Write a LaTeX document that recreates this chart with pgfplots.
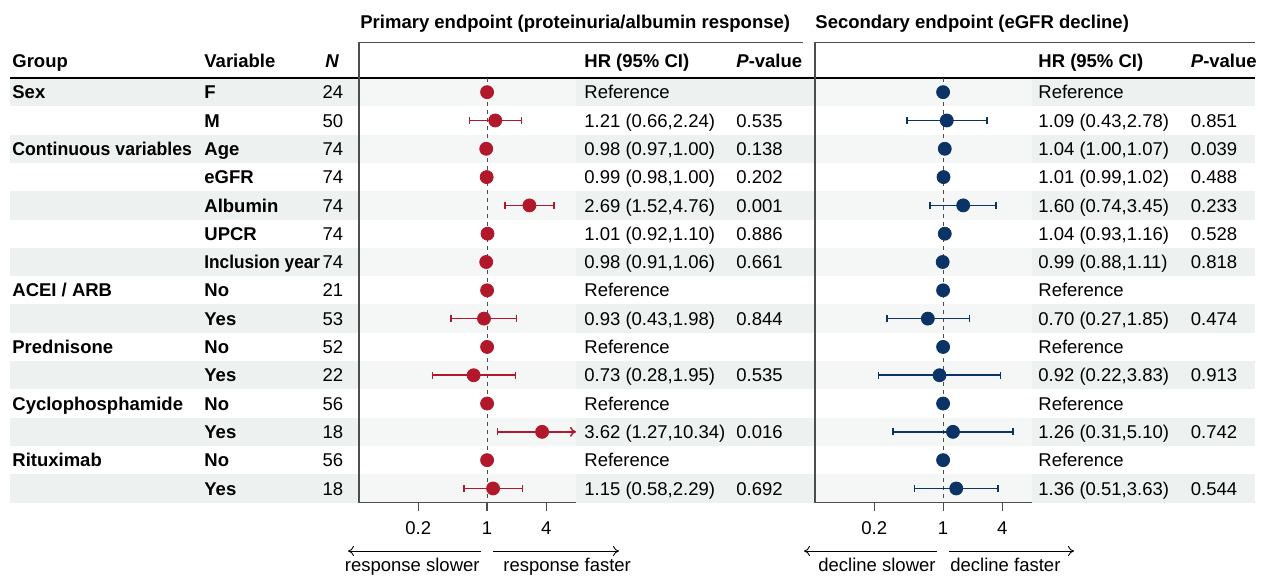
\documentclass[border=0pt]{standalone}
\usepackage{fontspec}
\setmainfont{Liberation Sans}
\usepackage{graphicx}
\usepackage{pgfplots}
\pgfplotsset{compat=1.18}
\usepackage{pgfplotstable}
\usetikzlibrary{arrows.meta}
\definecolor{shadeD}{HTML}{EDF1F0}
\definecolor{shadeL}{HTML}{F5F7F6}
\definecolor{cred}{HTML}{B2182B}
\definecolor{cnavy}{HTML}{0B3365}
\definecolor{axgray}{HTML}{4D4D4D}

% primary endpoint estimates: HR, row (negative), plus error, minus error
\pgfplotstableread{
x    y    ep    em
1.21 -2   1.03  0.55
0.98 -3   0.02  0.01
0.99 -4   0.01  0.01
2.69 -5   2.07  1.17
1.01 -6   0.09  0.09
0.98 -7   0.08  0.07
0.93 -9   1.05  0.50
0.73 -11  1.22  0.45
3.62 -13  0.00  2.35
1.15 -15  1.14  0.57
}\primest
% secondary endpoint estimates
\pgfplotstableread{
x    y    ep    em
1.09 -2   1.69  0.66
1.04 -3   0.03  0.04
1.01 -4   0.01  0.02
1.60 -5   1.85  0.86
1.04 -6   0.12  0.11
0.99 -7   0.12  0.11
0.70 -9   1.15  0.43
0.92 -11  2.91  0.70
1.26 -13  3.84  0.95
1.36 -15  2.27  0.85
}\secest
\pgfplotstableread{
x y
1 -1
1 -8
1 -10
1 -12
1 -14
}\refrows

\pgfplotsset{myforest/.style={
  scale only axis, width=108.5pt, height=230.3pt, anchor=south west,
  xmin=0.05, xmax=8, ymin=-15.5, ymax=0.7716,
  axis x line*=bottom, axis y line*=left, ytick=\empty,
  xtick={0.2,1,4}, xticklabels={0.2,1,4}, xminorticks=false,
  tick align=outside, major tick length=4pt,
  every tick/.style={axgray, line width=0.6pt},
  axis line style={axgray, line width=0.65pt},
  ticklabel style={font=\fontsize{9.25pt}{11pt}\selectfont, text=black},
  xticklabel style={yshift=-2pt},
  clip=false,
}}

\newcommand\trow[8]{%
  \pgfmathsetmacro\yb{78+(#1-0.5)*28.31+6.6}%
  \node[anchor=base west,inner sep=0] at (12,\yb) {\bfseries #2};
  \node[anchor=base west,inner sep=0] at (204,\yb) {\bfseries #3};
  \node[anchor=base east,inner sep=0] at (343.5,\yb) {#4};
  \node[anchor=base west,inner sep=0] at (584,\yb) {#5};
  \node[anchor=base west,inner sep=0] at (736,\yb) {#6};
  \node[anchor=base west,inner sep=0] at (1038,\yb) {#7};
  \node[anchor=base west,inner sep=0] at (1190.5,\yb) {#8};}

\begin{document}
\begin{tikzpicture}[x=0.5pt, y=-0.5pt, font=\fontsize{9.25pt}{11pt}\selectfont]
\path[use as bounding box] (0,0) rectangle (1263,575);
% row shading
\foreach \r in {1,3,...,15} {
  \pgfmathsetmacro\ya{78+(\r-1)*28.31}
  \pgfmathsetmacro\yc{78+\r*28.31}
  \fill[shadeD] (10,\ya) rectangle (1255,\yc);
  \fill[shadeL] (359,\ya) rectangle (576,\yc);
  \fill[shadeL] (815,\ya) rectangle (1032,\yc);
}
% titles
\node[anchor=base west,inner sep=0] at (360,28.6) {\bfseries Primary endpoint (proteinuria/albumin response)};
\node[anchor=base west,inner sep=0] at (815,28.6) {\bfseries Secondary endpoint (eGFR decline)};
% header
\node[anchor=base west,inner sep=0] at (12,67.6) {\bfseries Group};
\node[anchor=base west,inner sep=0] at (204,67.6) {\bfseries Variable};
\node[anchor=base west,inner sep=0] at (325,67.6) {\bfseries\itshape N};
\node[anchor=base west,inner sep=0] at (584,67.6) {\bfseries HR (95\% CI)};
\node[anchor=base west,inner sep=0] at (736,67.6) {\bfseries{\itshape P}-value};
\node[anchor=base west,inner sep=0] at (1038,67.6) {\bfseries HR (95\% CI)};
\node[anchor=base west,inner sep=0] at (1190.5,67.6) {\bfseries{\itshape P}-value};
% lines
\draw[axgray, line width=0.5pt] (359,42) -- (803,42);
\draw[axgray, line width=0.5pt] (815,42) -- (1255,42);
\draw[black, line width=1.2pt] (10,78) -- (1255,78);
% table rows
\trow{1}{Sex}{F}{24}{Reference}{}{Reference}{}
\trow{2}{}{M}{50}{1.21 (0.66,2.24)}{0.535}{1.09 (0.43,2.78)}{0.851}
\trow{3}{\scalebox{0.955}[1]{Continuous variables}}{Age}{74}{0.98 (0.97,1.00)}{0.138}{1.04 (1.00,1.07)}{0.039}
\trow{4}{}{eGFR}{74}{0.99 (0.98,1.00)}{0.202}{1.01 (0.99,1.02)}{0.488}
\trow{5}{}{Albumin}{74}{2.69 (1.52,4.76)}{0.001}{1.60 (0.74,3.45)}{0.233}
\trow{6}{}{UPCR}{74}{1.01 (0.92,1.10)}{0.886}{1.04 (0.93,1.16)}{0.528}
\trow{7}{}{\scalebox{0.93}[1]{Inclusion year}}{74}{0.98 (0.91,1.06)}{0.661}{0.99 (0.88,1.11)}{0.818}
\trow{8}{ACEI / ARB}{No}{21}{Reference}{}{Reference}{}
\trow{9}{}{Yes}{53}{0.93 (0.43,1.98)}{0.844}{0.70 (0.27,1.85)}{0.474}
\trow{10}{Prednisone}{No}{52}{Reference}{}{Reference}{}
\trow{11}{}{Yes}{22}{0.73 (0.28,1.95)}{0.535}{0.92 (0.22,3.83)}{0.913}
\trow{12}{Cyclophosphamide}{No}{56}{Reference}{}{Reference}{}
\trow{13}{}{Yes}{18}{3.62 (1.27,10.34)}{0.016}{1.26 (0.31,5.10)}{0.742}
\trow{14}{Rituximab}{No}{56}{Reference}{}{Reference}{}
\trow{15}{}{Yes}{18}{1.15 (0.58,2.29)}{0.692}{1.36 (0.51,3.63)}{0.544}
% direction arrows
\draw[-{To[length=3pt,width=5pt]}, line width=0.45pt] (481,551) -- (348,551);
\draw[-{To[length=3pt,width=5pt]}, line width=0.45pt] (493,551) -- (619,551);
\draw[-{To[length=3pt,width=5pt]}, line width=0.45pt] (937,551) -- (804,551);
\draw[-{To[length=3pt,width=5pt]}, line width=0.45pt] (949,551) -- (1074,551);
\node[anchor=base east,inner sep=0] at (480,571.6) {response slower};
\node[anchor=base west,inner sep=0] at (503,571.6) {response faster};
\node[anchor=base east,inner sep=0] at (936,571.6) {decline slower};
\node[anchor=base west,inner sep=0] at (950,571.6) {decline faster};

% primary panel
\begin{axis}[xmode=log, myforest, at={(179.5pt,-251.3pt)}]
\addplot[axgray, line width=0.5pt, dash pattern=on 2pt off 2pt] coordinates {(1,-0.5) (1,-15.5)};
\addplot[cred, line width=0.75pt, -{To[length=3pt,width=5pt]}] coordinates {(3.62,-13) (8,-13)};
\addplot[only marks, mark=*, mark size=3.25pt, color=cred, mark options={fill=cred, draw=cred},
  error bars/.cd, x dir=both, x explicit,
  error bar style={line width=0.75pt, cred},
  error mark options={rotate=90, mark size=1.75pt, line width=0.75pt, cred}]
  table[x=x, y=y, x error plus=ep, x error minus=em] {\primest};
\addplot[only marks, mark=*, mark size=3.25pt, color=cred, mark options={fill=cred, draw=cred}] table[x=x,y=y] {\refrows};
\end{axis}

% secondary panel
\begin{axis}[xmode=log, myforest, at={(407.5pt,-251.3pt)}]
\addplot[axgray, line width=0.5pt, dash pattern=on 2pt off 2pt] coordinates {(1,-0.5) (1,-15.5)};
\addplot[only marks, mark=*, mark size=3.25pt, color=cnavy, mark options={fill=cnavy, draw=cnavy},
  error bars/.cd, x dir=both, x explicit,
  error bar style={line width=0.75pt, cnavy},
  error mark options={rotate=90, mark size=1.75pt, line width=0.75pt, cnavy}]
  table[x=x, y=y, x error plus=ep, x error minus=em] {\secest};
\addplot[only marks, mark=*, mark size=3.25pt, color=cnavy, mark options={fill=cnavy, draw=cnavy}] table[x=x,y=y] {\refrows};
\end{axis}
\end{tikzpicture}
\end{document}
